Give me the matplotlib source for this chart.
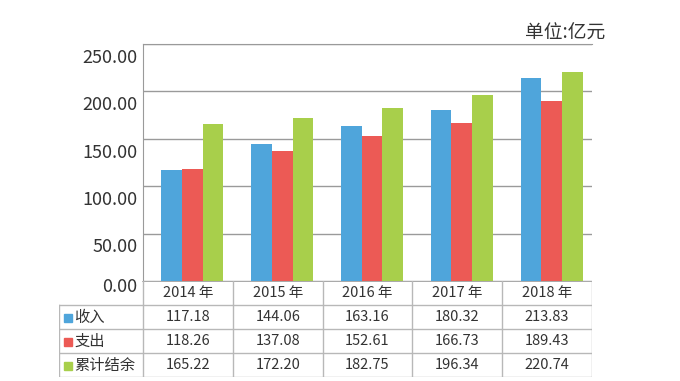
import matplotlib
matplotlib.use('Agg')
import matplotlib.pyplot as plt
import matplotlib.transforms as mtransforms
import numpy as np

plt.rcParams['font.family'] = ['Noto Sans CJK SC', 'DejaVu Sans']

years = ['2014 年', '2015 年', '2016 年', '2017 年', '2018 年']
series_names = ['收入', '支出', '累计结余']
income = [117.18, 144.06, 163.16, 180.32, 213.83]
expense = [118.26, 137.08, 152.61, 166.73, 189.43]
balance = [165.22, 172.20, 182.75, 196.34, 220.74]
y_ticks = [0, 50, 100, 150, 200, 250]
unit_text = '单位:亿元'

colors = ['#4fa5db', '#ec5a55', '#a8cf4b']
grid_color = '#9a9a9a'
table_color = '#b8b8b8'
text_color = '#333333'

W, H = 680, 381
fig = plt.figure(figsize=(6.8, 3.81), dpi=100)

# plot area in pixels
left, right, top, bottom = 143, 592, 44, 281
ax = fig.add_axes([left / W, 1 - bottom / H, (right - left) / W, (bottom - top) / H])

x = np.arange(len(years))
width = 0.23
shift = 0.05
for j, vals in enumerate([income, expense, balance]):
    ax.bar(x + (j - 1) * width + shift, vals, width, color=colors[j], zorder=3)

ax.set_xlim(-0.5, len(years) - 0.5)
ax.set_ylim(0, 250)
ax.set_yticks(y_ticks)
ax.set_yticklabels([])
ax.tick_params(axis='y', length=0)
ax.set_xticks([])
ax.yaxis.grid(True, color=grid_color, lw=1, zorder=0)
for s in ['right', 'bottom']:
    ax.spines[s].set_visible(False)
ax.spines['left'].set_color(grid_color)
ax.spines['top'].set_color(grid_color)

# tick labels sit a bit below their gridlines in the original
for t in y_ticks:
    dy = 0.45 if t == 0 else 1.0
    tr = ax.get_yaxis_transform() + mtransforms.ScaledTranslation(-4 / 72, -10 * dy / 72, fig.dpi_scale_trans)
    ax.text(0, t, '%.2f' % t, transform=tr, ha='right', va='center',
            fontsize=13, color=text_color, clip_on=False)

# data table under the bars
tleft, tbottom = 59, 377
ax_t = fig.add_axes([tleft / W, 1 - tbottom / H, (right - tleft) / W, (tbottom - bottom) / H])
col_w = (right - left) / len(years)
x0 = -0.5 - (left - tleft) / col_w
ax_t.set_xlim(x0, len(years) - 0.5)
ax_t.set_ylim(0, 4)
ax_t.axis('off')

ax_t.plot([-0.5, len(years) - 0.5], [4, 4], color=grid_color, lw=1.2)
for yy in [0, 1, 2, 3]:
    ax_t.plot([x0, len(years) - 0.5], [yy, yy], color=table_color, lw=1)
for xx in np.arange(-0.5, len(years), 1.0):
    ax_t.plot([xx, xx], [0, 4], color=table_color, lw=1)
ax_t.plot([x0, x0], [0, 3], color=table_color, lw=1)

for i, yr in enumerate(years):
    ax_t.text(i, 3.5, yr, ha='center', va='center', fontsize=10.5, color=text_color)

for r, (name, vals) in enumerate(zip(series_names, [income, expense, balance])):
    yc = 2.5 - r
    ax_t.plot([x0 + 0.1], [yc - 0.05], marker='s', ms=5.5, color=colors[r], ls='none')
    ax_t.text(x0 + 0.17, yc, name, ha='left', va='center', fontsize=11, color=text_color)
    for i, v in enumerate(vals):
        ax_t.text(i, yc, '%.2f' % v, ha='center', va='center', fontsize=10.5, color=text_color)

fig.text(605 / W, 1 - 33 / H, unit_text, ha='right', va='center', fontsize=13.5, color=text_color)

fig.savefig('out.png', dpi=100)
